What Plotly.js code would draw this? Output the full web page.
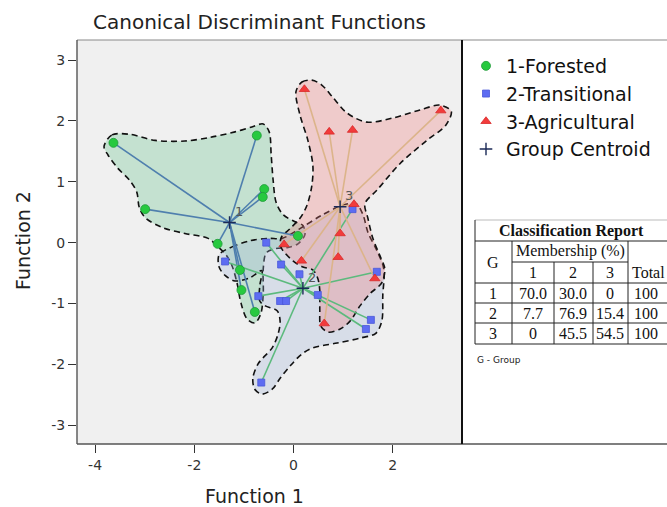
<!DOCTYPE html>
<html><head><meta charset="utf-8">
<script src="https://cdn.plot.ly/plotly-3.0.1.min.js"></script>
<style>html,body{margin:0;padding:0;background:#fff}#chart{width:667px;height:507px}</style>
</head><body><div id="chart"></div>
<script>
// ---- data ----
const groupNames = ['1-Forested', '2-Transitional', '3-Agricultural'];
const centroidName = 'Group Centroid';
const g1x = [-3.63, -0.74, -0.59, -0.62, -2.99, -1.53, -1.08, -1.05, -0.78, 0.09];
const g1y = [1.64, 1.76, 0.88, 0.75, 0.55, -0.02, -0.45, -0.78, -1.14, 0.11];
const g2x = [-0.55, -1.38, -0.71, -0.65, -0.25, 0.12, -0.27, -0.15, 0.49, 1.56, 1.46, 1.68, 1.19];
const g2y = [0.00, -0.31, -0.88, -2.30, -0.36, -0.52, -0.96, -0.96, -0.86, -1.27, -1.42, -0.48, 0.55];
const g3x = [0.22, 0.72, 1.19, 2.97, 1.22, 0.94, -0.19, 0.16, 0.90, 1.64, 0.62];
const g3y = [2.52, 1.82, 1.85, 2.17, 0.63, 0.15, -0.03, -0.30, -0.24, -0.59, -1.33];
const centroidX = [-1.29, 0.19, 0.94];
const centroidY = [0.33, -0.75, 0.59];
const centroidLabels = ['1', '2', '3'];
// group region outlines (data units)
const hull1x = [-3.82,-3.66,-3.30,-2.79,-2.19,-1.68,-1.18,-0.84,-0.61,-0.49,-0.45,-0.41,-0.35,-0.21,0.01,0.19,0.23,0.09,-0.11,-0.37,-0.55,-0.61,-0.61,-0.66,-0.78,-0.94,-1.06,-1.14,-1.24,-1.36,-1.52,-1.72,-2.19,-2.65,-2.99,-3.11,-3.16,-3.30,-3.54,-3.74];
const hull1y = [1.58,1.77,1.78,1.68,1.67,1.73,1.82,1.90,1.95,1.82,1.44,1.02,0.66,0.46,0.35,0.28,0.13,-0.02,-0.08,-0.10,-0.17,-0.43,-0.83,-1.17,-1.32,-1.25,-0.99,-0.66,-0.38,-0.20,-0.07,0.07,0.15,0.25,0.41,0.58,0.83,1.02,1.22,1.44];
const hull2x = [-1.50,-1.24,-0.88,-0.51,-0.23,0.13,0.57,0.98,1.26,1.40,1.50,1.68,1.82,1.80,1.78,1.66,1.34,0.88,0.39,0.17,-0.07,-0.27,-0.43,-0.64,-0.78,-0.82,-0.72,-0.62,-0.43,-0.31,-0.27,-0.33,-0.57,-0.68,-0.68,-0.64,-0.88,-1.18,-1.38,-1.50];
const hull2y = [-0.20,-0.07,0.03,0.07,0.07,0.23,0.45,0.61,0.64,0.46,0.17,-0.13,-0.43,-0.87,-1.29,-1.49,-1.57,-1.65,-1.73,-1.83,-2.03,-2.23,-2.41,-2.49,-2.41,-2.23,-2.00,-1.90,-1.73,-1.50,-1.29,-1.12,-1.04,-0.96,-0.71,-0.46,-0.58,-0.63,-0.54,-0.40];
const hull3x = [0.05,0.17,0.37,0.57,0.80,1.08,1.48,2.01,2.55,2.95,3.18,3.07,2.69,2.15,1.68,1.44,1.50,1.60,1.74,1.84,1.78,1.54,1.34,1.14,0.94,0.70,0.55,0.53,0.53,0.49,0.39,0.19,-0.01,-0.25,-0.25,-0.07,0.13,0.27,0.37,0.39,0.29,0.13];
const hull3y = [2.48,2.64,2.67,2.59,2.38,2.13,1.98,2.05,2.18,2.26,2.16,1.93,1.68,1.30,0.86,0.64,0.40,0.07,-0.21,-0.43,-0.66,-0.84,-1.04,-1.29,-1.42,-1.47,-1.37,-1.12,-0.79,-0.59,-0.45,-0.40,-0.30,-0.08,0.08,0.23,0.40,0.61,0.94,1.27,1.68,2.10];
const xTicks = [-4, -2, 0, 2];
const xTickText = ['-4', '-2', '0', '2'];
const yTicks = [-3, -2, -1, 0, 1, 2, 3];
const yTickText = ['-3', '-2', '-1', '0', '1', '2', '3'];
// classification table
const tableTitle = 'Classification Report';
const tableGroups = ['1', '2', '3'];
const memberCols = ['1', '2', '3'];
const row1 = ['70.0', '30.0', '0', '100'];
const row2 = ['7.7', '76.9', '15.4', '100'];
const row3 = ['0', '45.5', '54.5', '100'];

// ---- layout helpers (pixel -> paper) ----
const L = 77, R = 0, T = 40, B = 63, W = 667, H = 507;
const PW = W - L - R, PH = H - T - B;
const X = px => (px - L) / PW;
const Y = py => (H - B - py) / PH;

const colors = {
  fill: ['rgba(102,194,140,0.32)', 'rgba(160,180,215,0.30)', 'rgba(240,120,120,0.30)'],
  spoke: ['#4f7fae', '#5cba7d', '#dcb48a'],
  marker: ['#27c93f', '#5d6cf2', '#f23b3b'],
  edge: ['#1f9a38', '#4a58d8', '#d82a2a']
};
const gx = [g1x, g2x, g3x], gy = [g1y, g2y, g3y];
const hx = [hull1x, hull2x, hull3x], hy = [hull1y, hull2y, hull3y];

const traces = [];
for (let g = 0; g < 3; g++) {
  traces.push({
    x: hx[g].concat([hx[g][0]]), y: hy[g].concat([hy[g][0]]),
    mode: 'lines', fill: 'toself', fillcolor: colors.fill[g],
    line: {color: '#111', width: 1.6, dash: '6px,4px', shape: 'spline', smoothing: 0.9},
    hoverinfo: 'skip', showlegend: false
  });
}
for (let g = 0; g < 3; g++) {
  const sx = [], sy = [];
  gx[g].forEach((v, i) => { sx.push(centroidX[g], v, null); sy.push(centroidY[g], gy[g][i], null); });
  traces.push({x: sx, y: sy, mode: 'lines', line: {color: colors.spoke[g], width: 1.6}, hoverinfo: 'skip', showlegend: false});
}
const symbols = ['circle', 'square', 'triangle-up'];
const sizes = [9, 7, 9];
for (let g = 0; g < 3; g++) {
  traces.push({
    x: gx[g], y: gy[g], mode: 'markers', name: groupNames[g],
    marker: {symbol: symbols[g], size: sizes[g], color: colors.marker[g], line: {color: colors.edge[g], width: 0.8}}
  });
}
traces.push({
  x: centroidX, y: centroidY, mode: 'markers', name: centroidName,
  marker: {symbol: 'cross-thin-open', size: 9, color: '#1b2a57', line: {color: '#1b2a57', width: 1.4}}
});

const shapes = [];
const annotations = [];
shapes.push({type: 'rect', xref: 'paper', yref: 'paper', x0: X(462), x1: X(670), y0: Y(444), y1: Y(40), fillcolor: '#ffffff', line: {width: 0}, layer: 'below'});
shapes.push({type: 'line', xref: 'paper', yref: 'paper', x0: X(77), x1: X(670), y0: Y(40), y1: Y(40), line: {color: '#8a8a8a', width: 1.2}});
shapes.push({type: 'line', xref: 'paper', yref: 'paper', x0: X(77), x1: X(670), y0: Y(444), y1: Y(444), line: {color: '#555', width: 1.4}});
shapes.push({type: 'line', xref: 'paper', yref: 'paper', x0: X(77), x1: X(77), y0: Y(444), y1: Y(40), line: {color: '#555', width: 1.4}});
shapes.push({type: 'line', xref: 'paper', yref: 'paper', x0: X(462), x1: X(462), y0: Y(444), y1: Y(40), line: {color: '#111', width: 2}});

const tx = [475, 512, 554, 593, 628, 670];
const ty = [220, 241, 262, 283, 303, 323, 344];
const tl = (x0, y0, x1, y1, c) => shapes.push({type: 'line', xref: 'paper', yref: 'paper', x0: X(x0), x1: X(x1), y0: Y(y0), y1: Y(y1), line: {color: c || '#222', width: 1}});
tl(tx[0], ty[0], tx[5], ty[0], '#bbb');
tl(tx[0], ty[1], tx[5], ty[1]);
tl(tx[1], ty[2], tx[4], ty[2]);
for (let r = 3; r <= 6; r++) tl(tx[0], ty[r], tx[5], ty[r]);
tl(tx[0], ty[0], tx[0], ty[6]);
tl(tx[1], ty[1], tx[1], ty[6]);
tl(tx[4], ty[1], tx[4], ty[6]);
tl(tx[2], ty[2], tx[2], ty[6]);
tl(tx[3], ty[2], tx[3], ty[6]);

const serif = 'Liberation Serif, Times New Roman, serif';
const txt = (text, px, py, opts) => annotations.push(Object.assign({
  xref: 'paper', yref: 'paper', x: X(px), y: Y(py), text: text, showarrow: false,
  xanchor: 'center', yanchor: 'middle', font: {family: serif, size: 16, color: '#111'}
}, opts || {}));
txt('<b>' + tableTitle + '</b>', 571, 231, {font: {family: serif, size: 16, color: '#111'}});
txt('G', 493, 262);
txt('Membership (%)', 570, 251);
const cx = [533, 573, 610, 648];
memberCols.forEach((c, i) => txt(c, cx[i], 272));
txt('Total', 630, 272, {xanchor: 'left'});
[row1, row2, row3].forEach((row, r) => {
  const yy = (ty[3 + r] + ty[4 + r]) / 2;
  txt(tableGroups[r], 493, yy);
  row.forEach((v, i) => txt(v, cx[i], yy, i === 3 ? {xanchor: 'left', x: X(632)} : {}));
});
txt('G - Group', 475, 360, {xanchor: 'left', font: {family: 'DejaVu Sans, sans-serif', size: 9, color: '#222'}});

centroidLabels.forEach((t, i) => annotations.push({
  x: centroidX[i], y: centroidY[i], xref: 'x', yref: 'y', text: t, showarrow: false,
  xshift: 9, yshift: 11, font: {family: 'DejaVu Sans, sans-serif', size: 13, color: '#555'}
}));

annotations.push({xref: 'paper', yref: 'paper', x: X(254), y: Y(496), text: 'Function 1', showarrow: false,
  xanchor: 'center', yanchor: 'middle', font: {family: 'DejaVu Sans, sans-serif', size: 19, color: '#222'}});
annotations.push({xref: 'paper', yref: 'paper', x: X(23), y: Y(241), text: 'Function 2', showarrow: false, textangle: -90,
  xanchor: 'center', yanchor: 'middle', font: {family: 'DejaVu Sans, sans-serif', size: 19, color: '#222'}});

const layout = {
  width: W, height: H,
  margin: {l: L, r: R, t: T, b: B, pad: 0},
  paper_bgcolor: '#ffffff', plot_bgcolor: '#f0f0f0',
  title: {text: 'Canonical Discriminant Functions', x: 93 / W, xanchor: 'left', xref: 'container',
    y: 1 - 22 / H, yref: 'container', yanchor: 'middle',
    font: {family: 'DejaVu Sans, sans-serif', size: 20, color: '#222'}},
  xaxis: {domain: [0, X(462)], range: [-4.365, 3.397], tickvals: xTicks, ticktext: xTickText, ticks: 'outside', ticklen: 8, tickcolor: '#333',
    showgrid: false, zeroline: false, showline: false, tickfont: {family: 'DejaVu Sans, sans-serif', size: 14, color: '#333'}},
  yaxis: {range: [-3.31, 3.33], tickvals: yTicks, ticktext: yTickText, ticks: 'outside', ticklen: 8, tickcolor: '#333',
    showgrid: false, zeroline: false, showline: false, tickfont: {family: 'DejaVu Sans, sans-serif', size: 14, color: '#333'}},
  showlegend: true,
  legend: {x: X(466), y: Y(47), xanchor: 'left', yanchor: 'top', bgcolor: 'rgba(0,0,0,0)', borderwidth: 0,
    font: {family: 'DejaVu Sans, sans-serif', size: 19, color: '#111'}, tracegroupgap: 0, itemwidth: 30},
  shapes: shapes, annotations: annotations
};
Plotly.newPlot('chart', traces, layout, {displayModeBar: false, staticPlot: true});
</script></body></html>
